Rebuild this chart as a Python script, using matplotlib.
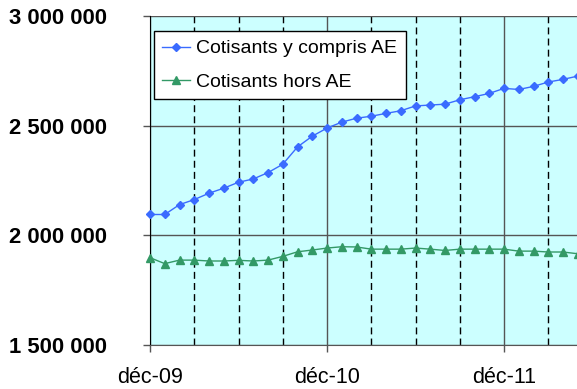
import numpy as np
import matplotlib
matplotlib.use("Agg")
import matplotlib.pyplot as plt
from matplotlib.ticker import FixedLocator, FuncFormatter

plt.rcParams['font.family'] = ['Liberation Sans', 'DejaVu Sans']

# ---------------- DATA ----------------
# monthly counts starting déc-09 (one value per month)
cotisants_avec_ae = [
    2095000, 2095000, 2140000, 2163000, 2192000, 2215000, 2242000, 2257000,
    2286000, 2324000, 2403000, 2452000, 2489000, 2516000, 2534000, 2543000,
    2556000, 2568000, 2590000, 2594000, 2598000, 2618000, 2632000, 2647000,
    2670000, 2665000, 2679000, 2699000, 2711000, 2726000,
]
cotisants_hors_ae = [
    1898000, 1871000, 1887000, 1887000, 1883000, 1883000, 1886000, 1883000,
    1887000, 1904000, 1925000, 1933000, 1942000, 1948000, 1947000, 1937000,
    1937000, 1937000, 1942000, 1937000, 1931000, 1937000, 1937000, 1937000,
    1937000, 1928000, 1928000, 1924000, 1924000, 1916000,
]
year_ticks = [0, 12, 24]
year_labels = ["déc-09", "déc-10", "déc-11"]
quarter_ticks = [3, 6, 9, 15, 18, 21, 27]
y_ticks = [1500000, 2000000, 2500000, 3000000]
series_labels = ["Cotisants y compris AE", "Cotisants hors AE"]
# --------------------------------------

W, H = 577, 389
fig = plt.figure(figsize=(W / 100, H / 100), dpi=100)
fig.patch.set_facecolor("white")

x0, x1 = 150, 577
y0, y1 = 16, 345
ax = fig.add_axes([x0 / W, 1 - y1 / H, (x1 - x0) / W, (y1 - y0) / H])
ax.set_facecolor("#CCFFFF")

months = np.arange(len(cotisants_avec_ae))
ax.plot(months, cotisants_avec_ae, color="#3A6BFF", lw=1.0, marker="D",
        ms=4.5, mec="#3A6BFF", clip_on=False, zorder=5, label=series_labels[0])
ax.plot(months, cotisants_hors_ae, color="#339966", lw=1.0, marker="^",
        ms=5.5, mec="#339966", clip_on=False, zorder=5, label=series_labels[1])

ax.set_xlim(0, (x1 - x0) / 14.75)
ax.set_ylim(1500000, 3000000)

ax.xaxis.set_major_locator(FixedLocator(year_ticks))
ax.set_xticklabels(year_labels)
ax.xaxis.set_minor_locator(FixedLocator(quarter_ticks))
ax.yaxis.set_major_locator(FixedLocator(y_ticks))
ax.yaxis.set_major_formatter(FuncFormatter(lambda v, p: f"{v:,.0f}".replace(",", " ")))

# gridlines: solid for years / values, dashed for quarters
ax.grid(True, which="major", axis="both", color="#555555", lw=1.0)
ax.grid(True, which="minor", axis="x", color="black", lw=1.0, linestyle=(0, (5, 3)))
ax.set_axisbelow(True)

for side in ["top", "right"]:
    ax.spines[side].set_visible(False)
ax.spines["left"].set_color("black")
ax.spines["bottom"].set_color("#555555")

ax.tick_params(axis="x", which="major", length=5, width=1, color="#555555",
               pad=11, labelsize=15.5)
ax.tick_params(axis="x", which="minor", length=0)
ax.tick_params(axis="y", which="major", length=5, width=1, color="#555555",
               pad=26, labelsize=15.8)
for t in ax.get_yticklabels():
    t.set_fontweight("bold")

leg = ax.legend(loc="upper left", bbox_to_anchor=(153.5 / W, 1 - 31 / H),
                bbox_transform=fig.transFigure, borderaxespad=0, fontsize=14,
                fancybox=False, framealpha=1, edgecolor="black",
                handlelength=1.45, handletextpad=0.3, labelspacing=0.8,
                borderpad=0.45)
leg.get_frame().set_linewidth(1.0)

fig.savefig("out.png", dpi=100)
